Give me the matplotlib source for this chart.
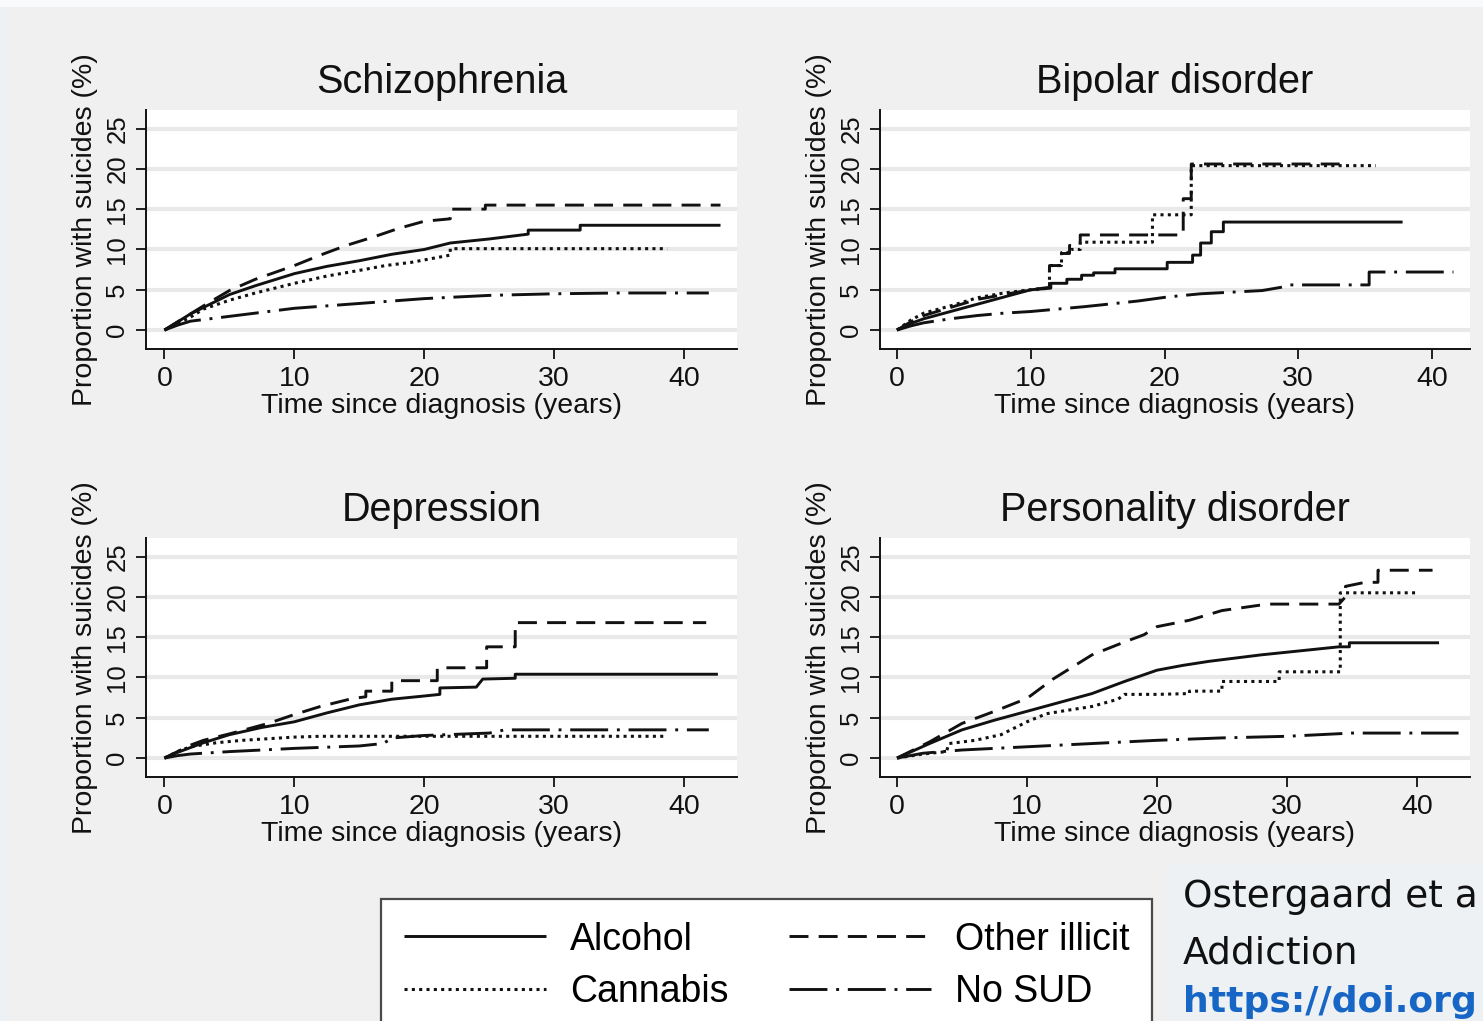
#!/usr/bin/env python3
"""Cumulative proportion with suicides by SUD group, four diagnoses (2x2 panels)."""
import matplotlib
matplotlib.use("Agg")
import matplotlib.pyplot as plt
from matplotlib.patches import Rectangle

W, H = 1483, 1021

PANELS = ["Schizophrenia", "Bipolar disorder", "Depression", "Personality disorder"]
GROUPS = ["Alcohol", "Cannabis", "Other illicit", "No SUD"]
YTICKS = [0, 5, 10, 15, 20, 25]
XTICKS = [0, 10, 20, 30, 40]

# ---- Schizophrenia ----
SCZ_ALC_X = [0, 1, 2, 3, 5, 7, 10, 12.5, 15, 17.5, 20, 22, 25, 28, 28, 32, 32, 42.8]
SCZ_ALC_Y = [0, 1.0, 2.0, 2.8, 4.4, 5.5, 7.0, 7.9, 8.6, 9.4, 10.0, 10.8, 11.3, 11.9, 12.4, 12.4, 13.0, 13.0]
SCZ_CAN_X = [0, 1, 2, 3, 5, 7, 10, 12.5, 15, 17, 19, 22, 22, 38.7]
SCZ_CAN_Y = [0, 0.8, 1.6, 2.6, 3.7, 4.6, 5.8, 6.7, 7.4, 8.0, 8.4, 9.3, 10.1, 10.1]
SCZ_OTH_X = [0, 1, 2, 3, 5, 7, 10, 12, 14, 16, 18, 20, 22, 22, 24.7, 24.7, 42.8]
SCZ_OTH_Y = [0, 1.0, 2.0, 3.0, 4.9, 6.3, 8.0, 9.3, 10.5, 11.5, 12.6, 13.5, 13.8, 15.0, 15.0, 15.5, 15.5]
SCZ_NOS_X = [0, 1, 2, 3.5, 5, 7.5, 10, 15, 20, 25, 30, 35, 41.9]
SCZ_NOS_Y = [0, 0.6, 1.1, 1.4, 1.7, 2.2, 2.7, 3.3, 3.9, 4.3, 4.5, 4.6, 4.6]

# ---- Bipolar disorder ----
BIP_ALC_X = [0, 1, 2, 4, 6, 8, 10, 11.5, 11.5, 12.7, 12.7, 13.8, 13.8, 14.7, 14.7, 16.3, 16.3,
             20.2, 20.2, 22.1, 22.1, 22.7, 22.7, 23.5, 23.5, 24.4, 24.4, 37.8]
BIP_ALC_Y = [0, 0.8, 1.4, 2.3, 3.2, 4.1, 5.0, 5.2, 5.8, 5.8, 6.3, 6.3, 6.8, 6.8, 7.1, 7.1, 7.6,
             7.6, 8.4, 8.4, 9.3, 9.3, 10.8, 10.8, 12.2, 12.2, 13.4, 13.4]
BIP_CAN_X = [0, 1, 2, 4, 6, 8, 10, 11.4, 11.4, 12.3, 12.3, 13.0, 13.0, 13.7, 13.7, 19.1, 19.1,
             22.0, 22.0, 35.8]
BIP_CAN_Y = [0, 1.2, 2.1, 3.0, 4.0, 4.6, 5.0, 5.2, 8.0, 8.0, 9.6, 9.6, 10.0, 10.0, 10.9, 10.9, 14.3,
             14.3, 20.4, 20.4]
BIP_OTH_X = [0, 1, 2, 4, 6, 8, 10, 11.4, 11.4, 12.3, 12.3, 12.9, 12.9, 13.7, 13.7, 21.4, 21.4,
             22.0, 22.0, 33.8]
BIP_OTH_Y = [0, 1.0, 1.8, 2.8, 3.8, 4.4, 5.0, 5.3, 8.0, 8.0, 9.5, 9.5, 10.5, 10.5, 11.8, 11.8, 16.3,
             16.3, 20.6, 20.6]
BIP_NOS_X = [0, 1, 2, 4, 6, 8, 10, 12, 14, 16.3, 18, 20.2, 22.7, 25, 27.3, 28.7, 29.4, 35.3, 35.3, 41.6]
BIP_NOS_Y = [0, 0.5, 0.9, 1.4, 1.8, 2.1, 2.3, 2.6, 2.9, 3.3, 3.6, 4.1, 4.5, 4.7, 4.9, 5.3, 5.6, 5.6, 7.2, 7.2]

# ---- Depression ----
DEP_ALC_X = [0, 1, 2, 3, 5, 7.5, 10, 12.5, 15, 17.5, 20, 21.2, 21.2, 24, 24.5, 27, 27, 42.6]
DEP_ALC_Y = [0, 0.7, 1.3, 1.9, 2.9, 3.8, 4.5, 5.6, 6.6, 7.3, 7.7, 7.9, 8.7, 8.8, 9.8, 9.9, 10.4, 10.4]
DEP_CAN_X = [0, 1, 2, 4, 6, 8, 10, 12, 38.4]
DEP_CAN_Y = [0, 0.8, 1.4, 1.9, 2.2, 2.4, 2.6, 2.7, 2.7]
DEP_OTH_X = [0, 1, 2, 3, 5, 8, 10, 12, 14.5, 15.5, 15.5, 17.5, 17.5, 21, 21, 24.8, 24.8, 27, 27, 41.7]
DEP_OTH_Y = [0, 0.8, 1.6, 2.2, 3.0, 4.3, 5.4, 6.4, 7.4, 7.6, 8.3, 8.3, 9.6, 9.6, 11.2, 11.2, 13.8,
             13.8, 16.8, 16.8]
DEP_NOS_X = [0, 1, 2, 5, 10, 15, 16.8, 17.6, 20, 25, 26.2, 41.9]
DEP_NOS_Y = [0, 0.3, 0.5, 0.8, 1.2, 1.5, 1.8, 2.5, 2.8, 3.1, 3.5, 3.5]

# ---- Personality disorder ----
PER_ALC_X = [0, 2.5, 5, 7.5, 10, 12.5, 15, 17.5, 20, 22, 24, 26, 28, 31, 34, 34.8, 34.8, 41.7]
PER_ALC_Y = [0, 1.8, 3.5, 4.7, 5.8, 6.9, 8.0, 9.5, 10.9, 11.5, 12.0, 12.4, 12.8, 13.3, 13.8, 13.8, 14.3, 14.3]
PER_CAN_X = [0, 2, 3.8, 4, 6, 8, 9, 10, 11.5, 13, 15, 17, 17.5, 20, 22.5, 22.5, 25, 25, 29.4, 29.4,
             34.1, 34.1, 39.9]
PER_CAN_Y = [0, 0.5, 0.8, 1.8, 2.2, 2.9, 3.7, 4.5, 5.5, 5.9, 6.4, 7.3, 7.9, 7.9, 8.0, 8.3, 8.3, 9.5,
             9.5, 10.7, 10.7, 20.5, 20.5]
PER_OTH_X = [0, 2.5, 5, 7.5, 10, 12, 15, 17.5, 19, 20, 22.5, 25, 28.5, 34, 34.5, 34.5, 36, 37, 37, 41.2]
PER_OTH_Y = [0, 2.0, 4.3, 5.8, 7.4, 9.8, 12.8, 14.4, 15.3, 16.3, 17.1, 18.3, 19.1, 19.1, 20.0, 21.3,
             21.8, 21.8, 23.3, 23.3]
PER_NOS_X = [0, 2, 5, 10, 15, 20, 25, 30, 35, 43.2]
PER_NOS_Y = [0, 0.6, 1.0, 1.4, 1.8, 2.2, 2.5, 2.7, 3.1, 3.1]

SERIES = {
    "Schizophrenia": [(SCZ_ALC_X, SCZ_ALC_Y), (SCZ_CAN_X, SCZ_CAN_Y), (SCZ_OTH_X, SCZ_OTH_Y), (SCZ_NOS_X, SCZ_NOS_Y)],
    "Bipolar disorder": [(BIP_ALC_X, BIP_ALC_Y), (BIP_CAN_X, BIP_CAN_Y), (BIP_OTH_X, BIP_OTH_Y), (BIP_NOS_X, BIP_NOS_Y)],
    "Depression": [(DEP_ALC_X, DEP_ALC_Y), (DEP_CAN_X, DEP_CAN_Y), (DEP_OTH_X, DEP_OTH_Y), (DEP_NOS_X, DEP_NOS_Y)],
    "Personality disorder": [(PER_ALC_X, PER_ALC_Y), (PER_CAN_X, PER_CAN_Y), (PER_OTH_X, PER_OTH_Y), (PER_NOS_X, PER_NOS_Y)],
}

# plot-area boxes in pixels (left, top, right, bottom) and x limits
BOXES = {
    "Schizophrenia": ((146, 110, 737, 349), (-1.42, 44.07)),
    "Bipolar disorder": ((880, 110, 1470, 349), (-1.27, 42.84)),
    "Depression": ((146, 538, 737, 777), (-1.42, 44.07)),
    "Personality disorder": ((880, 538, 1470, 777), (-1.31, 44.08)),
}
YLIM = (-2.35, 27.3)

STYLES = [
    dict(ls="-", lw=2.1),
    dict(ls=(0, (1.0, 1.4)), lw=2.2),
    dict(ls=(0, (6.5, 3.5)), lw=2.1),
    dict(ls=(0, (13.0, 3.0, 1.0, 3.0)), lw=2.1),
]
LINE_COLOR = "#111111"
TEXT_COLOR = "#111111"

plt.rcParams["font.family"] = ["Liberation Sans", "DejaVu Sans"]


def px_rect(l, t, r, b):
    return [l / W, 1 - b / H, (r - l) / W, (b - t) / H]


def main():
    fig = plt.figure(figsize=(W / 100, H / 100), dpi=100)
    fig.patch.set_facecolor("#EDF1F3")
    # slide / graph-region backgrounds
    fig.add_artist(Rectangle((10 / W, 0), 1, 1 - 8 / H, transform=fig.transFigure,
                             facecolor="#F0F0F0", edgecolor="none", zorder=-5))
    fig.add_artist(Rectangle((0, 1 - 7 / H), 1, 7 / H, transform=fig.transFigure,
                             facecolor="#F9FAFB", edgecolor="none", zorder=-5))
    fig.add_artist(Rectangle((1165 / W, 0), 1, (H - 865) / H, transform=fig.transFigure,
                             facecolor="#EDF1F3", edgecolor="none", zorder=-4))

    handles = None
    for name in PANELS:
        box, xlim = BOXES[name]
        ax = fig.add_axes(px_rect(*box))
        ax.set_facecolor("white")
        lines = []
        for (xs, ys), st, lab in zip(SERIES[name], STYLES, GROUPS):
            ln, = ax.plot(xs, ys, color=LINE_COLOR, label=lab, solid_capstyle="butt",
                          dash_capstyle="butt", **st)
            lines.append(ln)
        if handles is None:
            handles = lines
        ax.set_xlim(*xlim)
        ax.set_ylim(*YLIM)
        ax.set_xticks(XTICKS)
        ax.set_yticks(YTICKS)
        ax.grid(axis="y", color="#E9E9E9", lw=3)
        ax.set_axisbelow(True)
        for s in ("top", "right"):
            ax.spines[s].set_visible(False)
        for s in ("left", "bottom"):
            ax.spines[s].set_linewidth(1.4)
            ax.spines[s].set_color(TEXT_COLOR)
        ax.tick_params(axis="x", length=7, width=1.3, pad=5, labelsize=20.5, colors=TEXT_COLOR)
        ax.tick_params(axis="y", length=7, width=1.3, pad=5, labelsize=18.5, colors=TEXT_COLOR,
                       labelrotation=90)
        for lab in ax.get_yticklabels():
            lab.set_va("center")
        ax.set_title(name, fontsize=28.5, pad=12, color=TEXT_COLOR)
        ax.set_xlabel("Time since diagnosis (years)", fontsize=20.5, labelpad=1, color=TEXT_COLOR)
        ax.set_ylabel("Proportion with suicides (%)", fontsize=20.5, labelpad=5, color=TEXT_COLOR)

    leg = fig.legend(handles, GROUPS, loc="upper left", bbox_to_anchor=(381 / W, 1 - 899 / H),
                     borderaxespad=0, ncol=2, fontsize=27, handlelength=3.8,
                     handletextpad=0.64, columnspacing=1.6, borderpad=0.6,
                     labelspacing=0.43, fancybox=False, framealpha=1)
    leg.get_frame().set_edgecolor("#4a4a4a")
    leg.get_frame().set_linewidth(1.6)

    cite = dict(fontsize=27, family="DejaVu Sans", va="baseline", ha="left")
    fig.text(1183 / W, 1 - 907 / H, "Ostergaard et a", color=TEXT_COLOR, **cite)
    fig.text(1183 / W, 1 - 963 / H, "Addiction", color=TEXT_COLOR, **cite)
    fig.text(1183 / W, 1 - 1012 / H, "https://doi.org", color="#1766C5",
             fontweight="bold", fontsize=26, family="DejaVu Sans", va="baseline", ha="left")

    fig.savefig("out.png", dpi=100, facecolor=fig.get_facecolor())


if __name__ == "__main__":
    main()
